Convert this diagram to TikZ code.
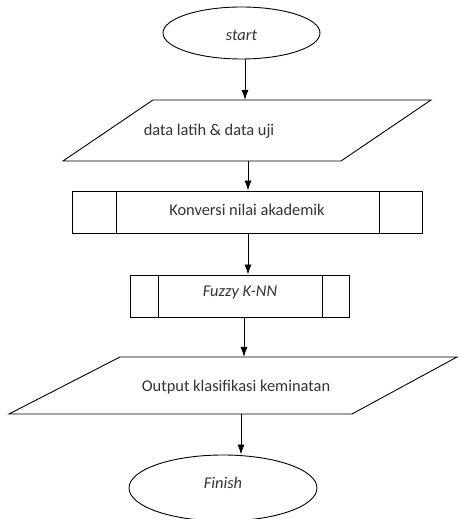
\documentclass[tikz,border=0pt]{standalone}
\usepackage{fontspec}
\setmainfont{Carlito}
\usetikzlibrary{shapes.geometric,arrows.meta}
\begin{document}
\begin{tikzpicture}[x=1pt,y=1pt,
  line/.style={draw=black, line width=0.9pt},
  arr/.style={line, -{Latex[length=10pt,width=7pt]}},
  term/.style={ellipse, line, inner sep=0pt},
  lbl/.style={font=\fontsize{16.4}{19}\selectfont, text=black!80, inner sep=0pt},
  proc/.style={rectangle, line, inner sep=0pt}]
\useasboundingbox (0,0) rectangle (458,519);
% start
\node[term, minimum width=157, minimum height=52] (start) at (241.5,486) {};
\node[lbl] (starttxt) at (241.5,484) {\itshape start};
% parallelogram 1
\coordinate (p1a) at (153,419);
\coordinate (p1b) at (431,419);
\coordinate (p1c) at (341,358);
\coordinate (p1d) at (63,358);
\draw[line, line join=miter] (p1a) -- (p1b) -- (p1c) -- (p1d) -- cycle;
\node[lbl] (data) at (209,388) {data latih \& data uji};
\coordinate (p1top) at (245,419);
\coordinate (p1bot) at (248,358);
% box 1
\node[proc, minimum width=350, minimum height=42] (konv) at (247,307) {};
\draw[line] (116,286) -- (116,328);
\draw[line] (379,286) -- (379,328);
\node[lbl] (konvtxt) at (247,309) {Konversi nilai akademik};
% box 2
\node[proc, minimum width=219, minimum height=42] (fknn) at (239.5,223) {};
\draw[line] (158,202) -- (158,244);
\draw[line] (322,202) -- (322,244);
\node[lbl] (fknntxt) at (240,226) {\itshape Fuzzy K-NN};
% parallelogram 2
\coordinate (p2a) at (120,162);
\coordinate (p2b) at (457,162);
\coordinate (p2c) at (352,105);
\coordinate (p2d) at (9,105);
\draw[line, line join=miter] (p2a) -- (p2b) -- (p2c) -- (p2d) -- cycle;
\node[lbl] (out) at (236,132) {Output klasifikasi keminatan};
\coordinate (p2top) at (244,162);
\coordinate (p2bot) at (241,105);
% finish
\node[term, minimum width=188, minimum height=66] (finish) at (223,31) {};
\node[lbl] (fintxt) at (223,36) {\itshape Finish};
% connectors
\draw[arr] (start.south -| p1top) -- (p1top);
\draw[arr] (p1bot) -- (p1bot |- konv.north);
\draw[arr] (konv.south -| p1bot) -- (fknn.north -| p1bot);
\draw[arr] (fknn.south -| p2top) -- (p2top);
\draw[arr] (p2bot) -- (p2bot |- finish.north);
\end{tikzpicture}
\end{document}
